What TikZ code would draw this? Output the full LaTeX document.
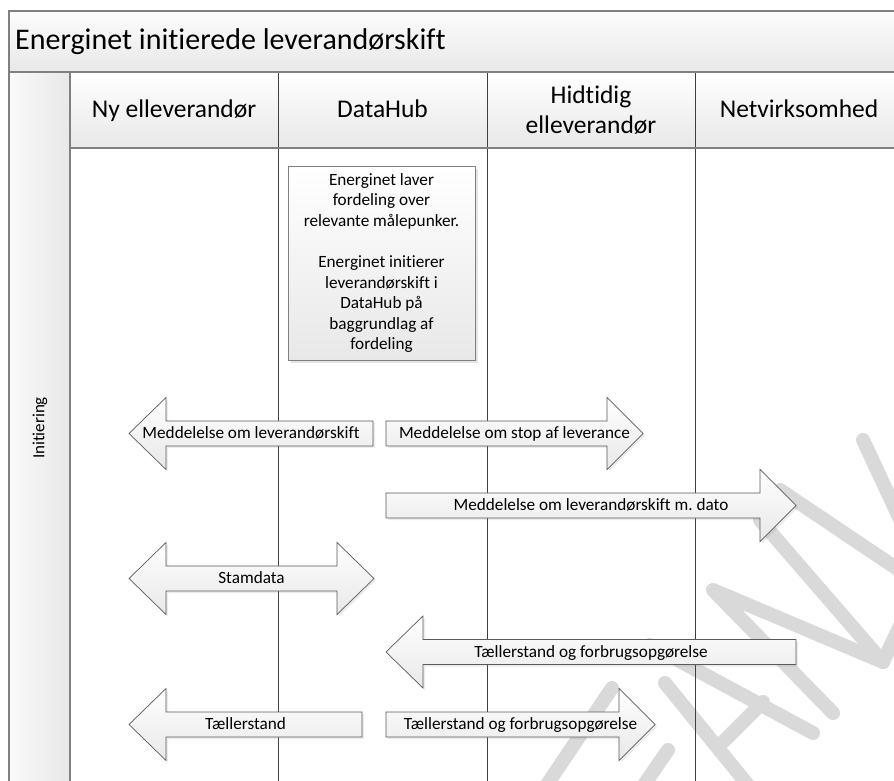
\documentclass[tikz,border=0pt]{standalone}
\usepackage{fontspec}
\setmainfont{Carlito}[Ligatures=NoCommon]
\frenchspacing
\usetikzlibrary{shadows}

\definecolor{framegray}{RGB}{128,128,128}
\definecolor{lanegray}{RGB}{64,64,64}
\definecolor{arrowgray}{RGB}{90,90,90}
\definecolor{fillgray}{RGB}{232,232,232}
\definecolor{markgray}{RGB}{217,217,217}

\begin{document}
\begin{tikzpicture}[
      x=1pt, y=1pt,%
      frameline/.style={draw=framegray, line width=1.5pt},%
      laneline/.style={draw=lanegray, line width=0.9pt},%
      headfill/.style={top color=white, bottom color=fillgray},%
      msgarrow/.style={draw=arrowgray, line width=0.7pt, top color=white, bottom color=fillgray,
                       drop shadow={shadow xshift=2pt, shadow yshift=-2pt, opacity=.15}},%
      msgtext/.style={anchor=base, inner sep=0pt, font=\fontsize{17.2}{20.6}\selectfont},%
      lanehead/.style={inner sep=0pt, align=center, font=\fontsize{25.5}{30}\selectfont},%
      procbox/.style={draw=framegray, line width=0.8pt, top color=white, bottom color=fillgray,
                      minimum width=187pt, minimum height=194pt, inner sep=0pt, align=center,
                      font=\fontsize{17.2}{20.6}\selectfont,
                      drop shadow={shadow xshift=3pt, shadow yshift=-3pt, opacity=.2}},%
      wmark/.style={draw=markgray, line width=14pt, line cap=round, line join=round}%
    ]
    \useasboundingbox (0,0) rectangle (894,780);
    \clip (0,0) rectangle (894,780);
    \fill[white] (0,0) rectangle (894,780);

    %% Title band, phase column and lane headers
    \shade[top color=gray!2, bottom color=fillgray] (9,708) rectangle (910,769);
    \shade[left color=gray!4, right color=fillgray] (9,-20) rectangle (70,708);
    \shade[headfill] (70,632) rectangle (910,708);

    %% Watermark
    \draw[wmark] (612,92) -- (540,-15);
    \draw[wmark] (668,30) -- (630,-25);
    \draw[wmark] (650,135) -- (813,47);
    \draw[wmark] (665,97) -- (752,-10);
    \draw[wmark] (763,78) -- (723,38);
    \draw[wmark] (833,67) -- (713,190) -- (883,118) -- (905,165);
    \draw[wmark] (760,260) -- (883,118);
    \draw[wmark] (780,290) -- (905,206);
    \draw[wmark] (863,340) -- (905,250);

    %% Swimlane lines
    \foreach \x in {278,487,695}
      \draw[laneline] (\x,708) -- (\x,-20);

    \draw[frameline] (910,769) -- (9,769) -- (9,-20);
    \draw[frameline] (9,708) -- (910,708);
    \draw[frameline] (70,708) -- (70,-20);
    \draw[frameline] (70,632) -- (910,632);

    %% Labels
    \node[anchor=base west, inner sep=0pt, font=\fontsize{30}{36}\selectfont] (title) at (15,730)
      {Energinet initierede leverandørskift};
    \node[rotate=90, inner sep=0pt, font=\fontsize{17}{20}\selectfont] (phase) at (40,352) {Initiering};
    \node[lanehead, anchor=base] (newsup) at (174,662) {Ny elleverandør};
    \node[lanehead, anchor=base] (hub) at (382.5,662) {DataHub};
    \node[lanehead] (oldsup) at (591,670) {Hidtidig\\elleverandør};
    \node[lanehead, anchor=base] (grid) at (799,662) {Netvirksomhed};

    %% Process step
    \node[procbox] (fordel) at (381.5,517)
      {Energinet laver\\fordeling over\\relevante målepunker.\\[20.6pt]Energinet initierer\\leverandørskift i\\DataHub på\\baggrundlag af\\fordeling};

    %% Message arrows
    \draw[msgarrow] (129,346.5) -- (166,382.5) -- (166,359) -- (373,359)
                    -- (373,334) -- (166,334) -- (166,310.5) -- cycle;
    \node[msgtext] (msgskift) at (251,341.5) {Meddelelse om leverandørskift};

    \draw[msgarrow] (386,359) -- (607,359) -- (607,382.5) -- (643,346.5)
                    -- (607,310.5) -- (607,334) -- (386,334) -- cycle;
    \node[msgtext] (msgstop) at (514.5,341.5) {Meddelelse om stop af leverance};

    \draw[msgarrow] (386,287) -- (760,287) -- (760,310.5) -- (796,274.5)
                    -- (760,238.5) -- (760,262) -- (386,262) -- cycle;
    \node[msgtext] (msgdato) at (591,269.5) {Meddelelse om leverandørskift m. dato};

    \draw[msgarrow] (129,201.5) -- (166,237.5) -- (166,214) -- (337,214) -- (337,237.5)
                    -- (374,201.5) -- (337,165.5) -- (337,189) -- (166,189) -- (166,165.5) -- cycle;
    \node[msgtext] (stam) at (251.5,196.5) {Stamdata};

    \draw[msgarrow] (386,128) -- (423,164) -- (423,140.5) -- (796,140.5)
                    -- (796,115.5) -- (423,115.5) -- (423,92) -- cycle;
    \node[msgtext] (forbrughub) at (591,123) {Tællerstand og forbrugsopgørelse};

    \draw[msgarrow] (129,55.5) -- (166,91.5) -- (166,68) -- (362,68)
                    -- (362,43) -- (166,43) -- (166,19.5) -- cycle;
    \node[msgtext] (taeller) at (245.5,50.5) {Tællerstand};

    \draw[msgarrow] (386,68) -- (619,68) -- (619,91.5) -- (655,55.5)
                    -- (619,19.5) -- (619,43) -- (386,43) -- cycle;
    \node[msgtext] (forbrugold) at (520.5,50.5) {Tællerstand og forbrugsopgørelse};
  \end{tikzpicture}
\end{document}
